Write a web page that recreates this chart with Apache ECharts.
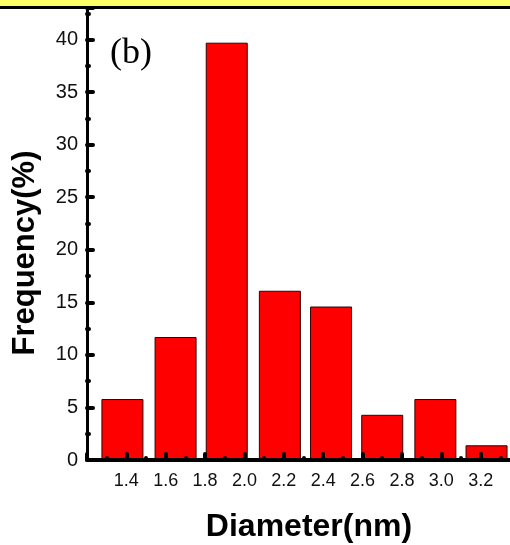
<!DOCTYPE html>
<html>
<head>
<meta charset="utf-8">
<script src="https://cdn.jsdelivr.net/npm/echarts@6/dist/echarts.min.js"></script>
<style>
  html, body { margin: 0; padding: 0; background: #fff; }
  #main { width: 510px; height: 545px; }
</style>
</head>
<body>
<div id="main"></div>
<script>
// histogram bins (bar centres in nm) and frequencies (%)
const binCenters = [1.38, 1.65, 1.91, 2.18, 2.44, 2.70, 2.97, 3.23]
const frequency = [5.8, 11.7, 39.7, 16.1, 14.6, 4.3, 5.8, 1.4]
const xTicks = [1.4, 1.6, 1.8, 2.0, 2.2, 2.4, 2.6, 2.8, 3.0, 3.2]

let chart = echarts.init(document.getElementById('main'))

let barData = binCenters.map((c, i) => [c, frequency[i]])

function tickText(v) {
  // only label the ticks we have in the list
  for (let t of xTicks) {
    if (Math.abs(t - v) < 1e-6) return t.toFixed(1)
  }
  return ''
}

var option = {
  backgroundColor: '#fff',
  animation: false,
  grid: {
    left: 87,
    top: 8,
    width: 433,
    height: 452,
    outerBoundsMode: 'none',
    containLabel: false
  },
  graphic: [
    { type: 'rect', left: 0, top: 0, shape: { width: 510, height: 6 }, style: { fill: '#ffff66' }, z: 100 },
    { type: 'rect', left: 0, top: 6, shape: { width: 510, height: 3 }, style: { fill: '#000' }, z: 100 },
    {
      type: 'text', left: 110, top: 36, z: 100,
      style: { text: '(b)', font: '36px "Liberation Serif", "DejaVu Serif", serif', fill: '#000' }
    }
  ],
  xAxis: {
    type: 'value',
    min: 1.2,
    max: 3.4,
    interval: 0.2,
    z: 5,
    name: 'Diameter(nm)',
    nameLocation: 'middle',
    nameGap: 51,
    nameTextStyle: {
      fontFamily: '"Liberation Sans", Arial, sans-serif',
      fontWeight: 'bold',
      fontSize: 32,
      color: '#000',
      padding: [0, 0, 0, 11]
    },
    axisLine: { lineStyle: { color: '#000', width: 4 } },
    axisTick: { inside: true, length: 6, lineStyle: { color: '#000', width: 4, cap: 'round' } },
    minorTick: { show: true, splitNumber: 2, length: 2, lineStyle: { color: '#000', width: 4, cap: 'round' } },
    splitLine: { show: false },
    axisLabel: {
      showMinLabel: false,
      showMaxLabel: false,
      margin: 12,
      fontFamily: '"Liberation Sans", Arial, sans-serif',
      fontSize: 18,
      color: '#111',
      formatter: tickText
    }
  },
  yAxis: {
    type: 'value',
    min: 0,
    max: 43,
    interval: 5,
    z: 5,
    name: 'Frequency(%)',
    nameLocation: 'middle',
    nameGap: 46,
    nameTextStyle: {
      fontFamily: '"Liberation Sans", Arial, sans-serif',
      fontWeight: 'bold',
      fontSize: 31,
      color: '#000',
      padding: [0, 38, 0, 0]
    },
    axisLine: { show: true, lineStyle: { color: '#000', width: 3 } },
    axisTick: { inside: true, length: 6, lineStyle: { color: '#000', width: 4, cap: 'round' } },
    minorTick: { show: true, splitNumber: 2, length: 2, lineStyle: { color: '#000', width: 4, cap: 'round' } },
    splitLine: { show: false },
    axisLabel: {
      showMaxLabel: false,
      margin: 9,
      fontFamily: '"Liberation Sans", Arial, sans-serif',
      fontSize: 20,
      color: '#111'
    }
  },
  series: [
    {
      type: 'bar',
      data: barData,
      barWidth: 42,
      itemStyle: {
        color: '#ff0000',
        borderColor: '#300',
        borderWidth: 1
      }
    }
  ]
}

chart.setOption(option)
</script>
</body>
</html>
